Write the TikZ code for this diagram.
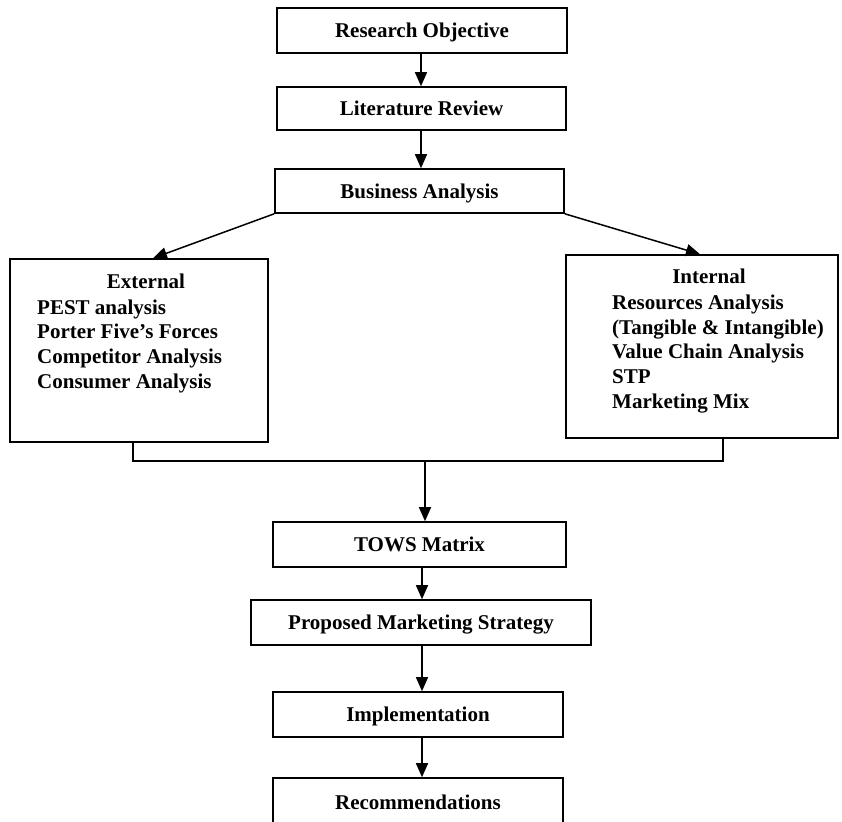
\documentclass[tikz,border=0pt]{standalone}
\usepackage{fontspec}
\setmainfont{Liberation Serif}
\usetikzlibrary{arrows.meta}
\begin{document}
\begin{tikzpicture}[x=1pt,y=-1pt,
  every node/.style={font=\bfseries\fontsize{21}{25}\selectfont},
  stepbox/.style={draw, line width=1.6pt, inner sep=0pt, minimum height=45pt, text height=14pt, text depth=0pt},
  txt/.style={inner sep=0pt, anchor=base west},
  ttl/.style={inner sep=0pt, anchor=base},
  arr/.style={line width=1.5pt, -{Triangle[width=12pt,length=14pt]}},
  ln/.style={line width=1.5pt}]
\useasboundingbox (0,0) rectangle (842,821);
\begin{scope}
\clip (0,0) rectangle (842,821);
\node[stepbox, minimum width=290pt] (ro) at (422,30.5) {Research Objective};
\node[stepbox, minimum width=289pt, minimum height=43pt] (lr) at (421.5,108.5) {Literature Review};
\node[stepbox, minimum width=289pt, minimum height=44pt] (ba) at (419.5,191) {Business Analysis};
\node[stepbox, minimum width=258pt, minimum height=183pt] (ext) at (139,350.5) {};
\node[stepbox, minimum width=272pt, minimum height=183pt] (int) at (702,346.5) {};
\node[stepbox, minimum width=293pt] (tows) at (419.5,544.5) {TOWS Matrix};
\node[stepbox, minimum width=340pt] (pms) at (421,622.5) {Proposed Marketing Strategy};
\node[stepbox, minimum width=290pt] (imp) at (418,714.5) {Implementation};
\node[stepbox, minimum width=290pt, minimum height=48pt] (rec) at (418,802) {};
\node[ttl] (rectext) at (418,809) {Recommendations};

\node[ttl] (extt) at (146,288) {External};
\node[txt] (e1) at (37,314) {PEST analysis};
\node[txt] (e2) at (37,338) {Porter Five’s Forces};
\node[txt] (e3) at (37,363) {Competitor Analysis};
\node[txt] (e4) at (37,388) {Consumer Analysis};

\node[ttl] (intt) at (709,283) {Internal};
\node[txt] (i1) at (612,309) {Resources Analysis};
\node[txt] (i2) at (612,334) {(Tangible \& Intangible)};
\node[txt] (i3) at (612,358) {Value Chain Analysis};
\node[txt] (i4) at (612,383) {STP};
\node[txt] (i5) at (612,408) {Marketing Mix};

\coordinate (tl) at (153,0);
\coordinate (tr) at (700,0);
\coordinate (jl) at (133,461);
\coordinate (jr) at (723,461);
\coordinate (jm) at (425,461);

\draw[arr] (ro.south -| 421,0) -- (lr.north -| 421,0);
\draw[arr] (lr.south -| 421,0) -- (ba.north -| 421,0);
\draw[arr] (ba.south west) -- (ext.north -| tl);
\draw[arr] (ba.south east) -- (int.north -| tr);
\draw[ln] (jl |- ext.south) -- (jl) -- (jr) -- (jr |- int.south);
\draw[arr] (jm) -- (tows.north -| jm);
\draw[arr] (tows.south -| 422,0) -- (pms.north -| 422,0);
\draw[arr] (pms.south -| 422,0) -- (imp.north -| 422,0);
\draw[arr] (imp.south -| 422,0) -- (rec.north -| 422,0);
\end{scope}
\end{tikzpicture}
\end{document}
